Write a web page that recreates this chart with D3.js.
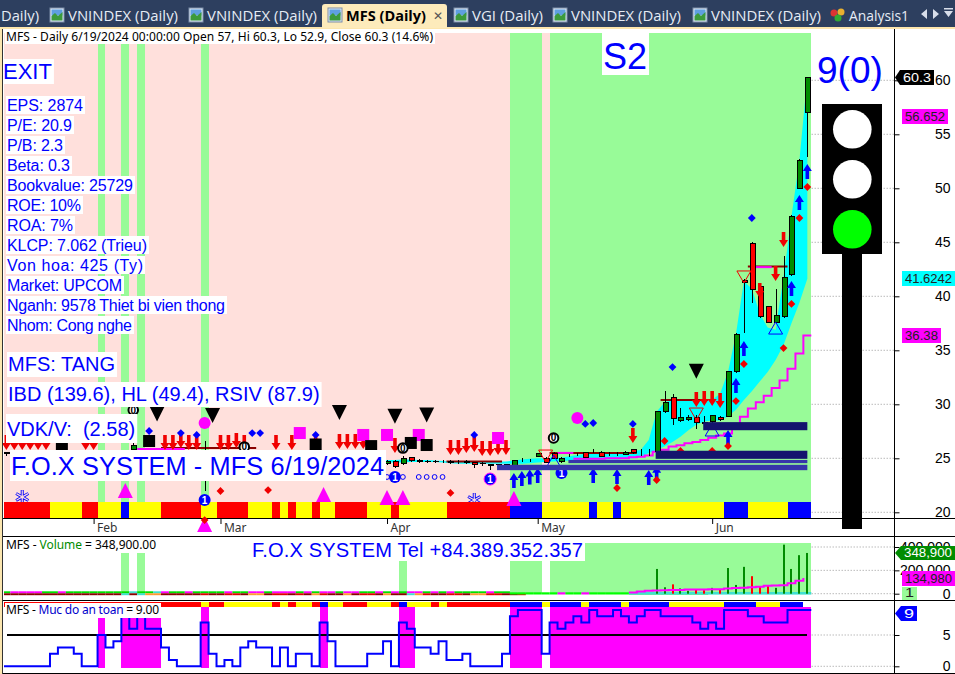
<!DOCTYPE html>
<html><head><meta charset="utf-8">
<style>html,body{margin:0;padding:0;background:#fff}svg{display:block}text{white-space:pre}</style>
<script src="https://cdnjs.cloudflare.com/ajax/libs/d3/7.8.5/d3.min.js"></script>
</head><body><svg id="c" width="955" height="674"></svg>
<script>
// ---------- DATA ----------
const barCount = 102;
const priceTicks = [20,25,30,35,40,45,50,55,60];
const volumeTicks = [0,200000,400000];
const safetyTicks = [0,5];
const months = ["Feb","Mar","Apr","May","Jun"];
const monthBars = [11,27,48,67,89];

const opens = [25.5,25.5,25.5,25.5,25.5,25.5,25.5,25.5,25.5,25.5,25.5,25.5,25.5,25.5,25.5,25.5,25.8,25.5,25.5,25.5,
 25.4,25.4,25.4,25.4,25.4,25.4,25.4,25.4,25.4,25.4,25.4,25.4,25.4,25.4,25.4,25.4,25.4,25.4,25.4,25.4,
 25.4,25.4,25.4,25.4,25.4,25.2,25,24.9,24.5,24.7,24.5,25.05,24.8,24.7,24.75,24.7,24.7,24.7,24.7,24.6,
 24.55,24.4,24.45,24.4,24.3,24.9,24.85,25.2,25,25.4,24.75,25.3,25.4,25.5,25.7,25.55,25.5,25.5,25.35,25.8,
 25.55,25.55,25.6,29.3,30.6,28.5,28.6,28.8,28.3,28.4,28.8,28.9,33,41.5,44.9,40.9,39.1,37.6,38.1,42,50,57];
const closes = [25.4,25.4,25.45,25.4,25.4,25.45,25.4,25.4,25.4,25.45,25.4,25.4,25.4,25.45,25.4,25.4,26.2,25.4,25.45,25.4,
 25.3,25.35,25.3,25.3,25.3,25.3,25.35,25.3,25.3,25.3,25.3,25.3,25.35,25.3,25.3,25.3,25.3,25.35,25.3,25.25,
 25.3,25.3,25.3,25.3,25.2,25,24.9,24.7,24.7,24.2,25,24.8,24.7,24.75,24.7,24.7,24.65,24.7,24.65,24.4,
 24.5,24.35,24.4,24.35,24.8,24.9,24.85,25.4,24.65,25,25,25.3,25.4,25.1,25.7,25.2,25.5,25.5,25.55,25.5,
 25.55,25.55,29.3,30.2,28.7,28.8,28.8,28.3,28.25,29,28.6,33,36.5,41.3,40.65,38.1,37.6,38.2,41.76,47.4,52.6,60.3];
const highs = [25.6,25.6,25.6,25.6,25.6,25.6,25.6,25.6,25.6,25.6,25.6,25.6,25.6,25.6,25.6,25.6,26.5,25.6,25.6,25.6,
 25.6,25.6,25.6,25.6,25.6,26.6,25.6,25.6,25.6,25.6,25.6,25.6,25.6,25.6,25.6,25.6,25.6,25.6,25.6,25.6,
 25.6,25.6,25.6,25.6,25.5,25.3,25.1,25,24.8,24.8,25.2,25.1,24.9,24.85,24.85,24.8,24.8,24.8,24.8,24.7,
 24.65,24.45,24.5,24.45,24.85,25,24.95,25.5,25.1,25.6,25.1,25.4,25.5,25.6,25.9,25.7,25.6,25.6,25.7,25.9,
 25.9,25.9,29.4,31.2,31,29.7,29,29,28.9,29,28.9,33.1,36.6,41.6,45,40.9,39.1,40.7,43.7,47.5,52.7,60.3];
const lows = [25.2,25.2,25.2,25.2,25.2,25.2,25.2,25.2,25.2,25.2,25.2,25.2,25.2,25.2,25.2,25.2,25.6,25.2,25.2,25.2,
 25.2,25.2,25.2,25.2,25.2,22,25.2,25.2,25.2,25.2,25.2,25.2,25.2,25.2,25.2,25.2,25.2,25.2,25.2,25.2,
 25.2,25.2,25.2,25.2,25,24.8,24.7,24.5,24.4,24.1,24.4,24.7,24.6,24.6,24.6,24.6,24.5,24.5,24.5,24.1,
 24.3,23.9,24.2,24.2,24.2,24.7,24.7,25.1,24.6,24.9,24.6,25.1,25.2,25,25.5,25.1,25.2,25.2,25.3,25.4,
 25.2,25.2,25.5,29.2,28.1,28.4,28.5,27.7,27.6,28.3,28.5,28.8,32.9,36.6,39.4,38,37.5,37.6,38,41.9,50,52.9];

const mainBandRuns = [["r",6],["y",4],["r",2],["y",3],["b",1],["y",4],["r",5],["y",2],["r",4],["y",3],["r",1],["y",1],["r",1],["y",2],["r",1],["y",2],["r",4],["y",3],["r",1],["y",6],["r",8],["b",4],["y",6],["b",1],["y",2],["b",1],["y",13],["b",3],["y",5],["b",3]];
const safetyBandRuns = [["r",25],["y",1],["r",2],["y",6],["r",1],["y",1],["r",1],["y",2],["r",1],["b",1],["y",2],["r",3],["y",3],["r",1],["b",1],["y",3],["r",1],["y",1],["r",8],["b",4],["y",1],["b",4],["y",1],["b",4],["y",1],["b",5],["y",7],["b",4],["y",3],["b",3]];

const mainGreenBars = [12,15,17,25,64,65,66,67,69,70,71,72,73,74,75,76,77,78,79,80,81,82,83,84,85,86,87,88,89,90,91,92,93,94,95,96,97,98,99,100,101];
const volumeGreenBars = [15,17,50,64,65,66,67,69,70,71,72,73,74,75,76,77,78,79,80,81,82,83,84,85,86,87,88,89,90,91,92,93,94,95,96,97,98,99,100,101];
const safetyPinkBars = [12,15,16,17,18,19,25,40,50,51,64,65,66,67,69,70,71,72,73,74,75,76,77,78,79,80,81,82,83,84,85,86,87,88,89,90,91,92,93,94,95,96,97,98,99,100,101];

const safety = [0,0,0,0,0,0,2,3,3,2,0,0,5,3,4,9,6,9,6,6,3,1,0,0,0,7,2,0,1,0,3,4,3,3,0,3,0,2,2,0,7,4,0,0,0,0,2,2,4,0,7,6,3,3,2,4,1,1,2,0,0,0,0,2,8,9,9,9,2,7,6,7,8,7,9,8,8,9,8,7,8,9,9,8,8,8,8,7,6,7,6,9,9,9,8,8,7,7,7,9,9,9];

const cloudFirstBar = 47;
const cloudTop = [24.7,24.85,24.85,24.9,24.9,24.85,24.85,24.8,24.75,24.7,24.7,24.7,24.7,24.7,24.7,24.7,24.7,24.8,24.9,24.95,25,25,25.05,25.05,25.2,25.3,25.4,25.4,25.4,25.4,25.45,25.5,25.6,25.8,26.7,29.3,30.2,30.4,30.4,30.4,30.4,30.4,30.4,31,33,36.5,41.4,40.7,38.4,37.1,36.9,41.8,47.4,52.6,60.3];
const cloudBottom = [24.6,24.6,24.6,24.6,24.65,24.65,24.65,24.65,24.6,24.55,24.5,24.5,24.5,24.5,24.5,24.5,24.5,24.5,24.5,24.55,24.6,24.65,24.7,24.75,24.8,24.85,24.85,24.9,24.9,24.9,24.9,24.95,25,25.1,25.5,25.8,26.1,26.5,27,27.6,28.1,28.4,28.5,28.5,28.9,29.5,30.4,31.2,32.1,33,34.1,35.5,37.5,39.4,41.62];

const stairFirstBar = 72;
const stairLine = [24.95,24.95,24.95,24.95,25,25,25,25.1,25.15,25.25,25.6,25.8,26.1,26.2,26.4,26.5,26.7,26.9,27.1,27.3,27.8,28.85,29.6,30.2,30.8,31.5,32.2,33.3,34.7,36.38];

const levelLineBars = [[20,31],[56,62],[69,79],[83,88],[94,98]];
const levelLinePrices = [25.95,24.7,25.5,30.4,42.75];
const pinkLineBars = [[17,22],[70,71],[95,96]];
const pinkLinePrices = [25.86,25.5,42.7];

const zoneBars = [[88,101],[82,101],[71,101],[62,101]];
const zoneHigh = [28.35,25.7,24.85,24.4];
const zoneLow = [27.6,24.95,24.55,23.9];
const zoneShades = ["#14146e","#14146e","#3636aa","#3636aa"];

const sellBars = [0,1,2,3,4,5,10,11,20,21,22,23,24,27,28,29,30,34,36,39,42,43,44,45,49,56,57,58,59,60,61,62,63,79,87,88,89,90,95,97,98];
const sellTips = [25.77,25.77,25.77,25.77,25.77,25.77,25.77,25.77,25.77,25.77,25.95,25.77,25.77,25.77,25.77,25.95,25.77,25.77,25.77,25.77,25.86,25.86,25.86,25.86,25.49,25.31,25.31,25.49,25.58,25.21,25.21,25.31,25.31,26.42,29.75,29.84,29.84,29.66,39.84,41.42,44.56];
const buyBars = [64,65,66,67,74,77,81,82,91,92,93,99,100,101];
const buyTips = [23.64,23.82,23.96,24.1,24.1,24,23.91,24.3,27.62,32.43,35.86,41.42,49.38,52.25];
const blackDownBars = [19,26,42,49,53,87];
const blackDownPrices = [29.1,28.97,29.25,28.9,29,33.05];
const pinkSquareBars = [37,45,48,52,62];
const pinkSquarePrices = [27.34,27.16,27.16,27.16,26.88];
const blackSquareBars = [7,18,39,46,51,53];
const blackSquarePrices = [25.95,26.6,26.28,26.13,26.42,26.23];
const pinkCircleBars = [25,72];
const pinkCirclePrices = [28.27,28.73];
const blueDiamondBars = [18,22,24,31,32,39,59,73,74,79,84,94];
const blueDiamondPrices = [27.53,27.34,27.16,27.34,27.34,27.16,27.16,28.18,28.27,28.18,33.45,47.25];
const redDiamondBars = [27,33,56,77,82,83,85,89,91,92,93,98,99,100,101];
const redDiamondPrices = [21.97,22.06,21.79,22.25,22.99,26.6,25.68,25.68,26.13,30.3,33.73,35.21,39.29,47.25,50.12];
const topDiamondBars = [25];
const topDiamondPrices = [19.28];
const pinkUpBars = [15,25,40,48,50,64];
const pinkUpPrices = [21.97,18.82,21.6,21.32,21.32,21.23];
const oneBars = [25,49,61];
const onePrices = [21.14,23.27,23.08];
const clippedOneBars = [70];
const clippedOnePrices = [23.64];
const zeroBars = [16,30,50,69];
const zeroPrices = [29.47,26.05,25.95,26.88];
const ringBars = [48,50,52,53,54,55];
const ringPrices = [23.27,23.27,23.27,23.27,23.27,23.27];
const flakeBars = [2,59];
const flakePrices = [21.42,21.14];
const redOutlineBars = [93,87,68];
const redOutlinePrices = [41.79,29.1,25.21];
const blueOutlineBars = [97,89,69];
const blueOutlinePrices = [37.06,27.62,24.75];

const volumeBars = [82,83,84,85,86,87,88,89,90,91,92,93,94,95,96,97,98,99,100,101];
const volumeValues = [212000,55000,80000,45000,25000,40000,30000,50000,40000,220000,75000,230000,150000,65000,65000,50000,420000,212000,330000,348900];
const volumeRed = [84,87,88,90,94,95,96];
const volumeAvgBars = [79,80,81,82,83,84,85,86,87,88,89,90,91,92,93,94,95,96,97,98,99,100,101];
const volumeAvg = [10000,18000,25000,28000,30000,32000,32000,35000,35000,35000,38000,38000,45000,48000,52000,55000,60000,68000,70000,72000,90000,110000,134980];
const thinTopCodes = "lmmmmllmlllllllltlltmllmllllmllmmlmmmlmlmmlmmllmlmlmmlmlmllllmll".split("");
const thinLowCodes = "dddddddddddddddtdtoodddddrddrrdoodrrdrdorddodrrdoddtorddrrdoorrddr".split("");
const thinLimeCodes = "llllllmllmlllllllllllllll".split("");

const sideNotes = ["EPS: 2874","P/E: 20.9","P/B: 2.3","Beta: 0.3","Bookvalue: 25729","ROE: 10%","ROA: 7%","KLCP: 7.062 (Trieu)","Von hoa: 425 (Ty)","Market: UPCOM","Nganh: 9578 Thiet bi vien thong","Nhom: Cong nghe"];
const tabNames = ["VNINDEX (Daily)","VNINDEX (Daily)","VGI (Daily)","VNINDEX (Daily)","VNINDEX (Daily)"];

// ---------- LAYOUT ----------
const sideNoteWidths = [76,65,56,63,126,74,66,140,136,115,218,125];
const tabTextX = [68,207,472,571,711];
const tabTextW = [110,110,71,110,110];

// ---------- SCALES ----------
const svg = d3.select("#c");
const edge = d3.scaleLinear().domain([0,barCount]).range([2.4,811.3]);
const bw = edge(1)-edge(0);
const cx = i => edge(i)+bw/2;
const px = i => Math.round(edge(i));
const pw = i => px(i+1)-px(i);
const yP = d3.scaleLinear().domain([20,60]).range([512.3,80.3]);
const yV = d3.scaleLinear().domain([0,400000]).range([593.7,547]);
const yS = d3.scaleLinear().domain([0,5]).range([666.3,635]);
const COL = {r:"#ff0000",y:"#ffff00",b:"#0000ff"};
const GREEN="#98fb98", PINK="#ffe0dc", MAG="#ff00ff", BLUE="#0000ff", LEFT=4;
const clipL = i => Math.max(LEFT, edge(i));

svg.append("rect").attr("width",955).attr("height",674).attr("fill","#fff");

// ---------- MAIN PANE BACKGROUND ----------
const main = svg.append("g");
main.append("rect").attr("x",LEFT).attr("y",33).attr("width",px(barCount)-LEFT).attr("height",485).attr("fill",PINK);
main.append("g").attr("shape-rendering","crispEdges").selectAll("rect").data(mainGreenBars).join("rect").attr("x",px).attr("y",33)
  .attr("width",pw).attr("height",485).attr("fill",GREEN);
svg.append("g").selectAll("line").data(priceTicks).join("line")
  .attr("x1",811.5).attr("x2",894).attr("y1",d=>yP(d)).attr("y2",d=>yP(d))
  .attr("stroke","#bbb").attr("stroke-dasharray","1.5 1.5");

// cloud
const cloudRows = d3.range(cloudTop.length).map(k=>({i:k+cloudFirstBar,t:cloudTop[k],b:cloudBottom[k]}));
main.append("path").datum(cloudRows)
  .attr("d",d3.area().x(d=>cx(d.i)).y0(d=>yP(d.b)).y1(d=>yP(d.t)))
  .attr("fill","#00ffff");

// level lines
levelLineBars.forEach((b,k)=>main.append("line").attr("x1",edge(b[0])).attr("x2",edge(b[1]+1))
  .attr("y1",yP(levelLinePrices[k])).attr("y2",yP(levelLinePrices[k])).attr("stroke","#8b0000").attr("stroke-width",2));
pinkLineBars.forEach((b,k)=>main.append("line").attr("x1",edge(b[0])).attr("x2",edge(b[1]+1))
  .attr("y1",yP(pinkLinePrices[k])).attr("y2",yP(pinkLinePrices[k])).attr("stroke",MAG).attr("stroke-width",2));

// stair line (each value holds over its bar)
const stairPts = stairLine.map((v,k)=>[edge(k+stairFirstBar),yP(v)]);
stairPts.push([edge(barCount),yP(stairLine[stairLine.length-1])]);
main.append("path").attr("d",d3.line().curve(d3.curveStepAfter)(stairPts)).attr("fill","none").attr("stroke",MAG).attr("stroke-width",2);

// candles
const rows = d3.range(barCount).map(i=>({i,o:opens[i],c:closes[i],h:highs[i],l:lows[i]}));
const cg = main.append("g").attr("shape-rendering","crispEdges");
cg.selectAll(".w").data(rows).join("line").attr("x1",d=>Math.round(cx(d.i))+.5).attr("x2",d=>Math.round(cx(d.i))+.5)
  .attr("y1",d=>yP(d.h)).attr("y2",d=>yP(d.l)).attr("stroke","#000");
cg.selectAll(".b").data(rows).join("rect").attr("x",d=>Math.round(cx(d.i))-2)
  .attr("width",5).attr("y",d=>yP(Math.max(d.o,d.c)))
  .attr("height",d=>Math.abs(yP(d.o)-yP(d.c))).attr("fill",d=>d.c>=d.o?"#008c00":"#ff0000").attr("stroke","#000");

// markers
const at = (bars,vals)=>bars.map((b,k)=>({x:cx(b),y:yP(vals[k])}));
const tr = d=>`translate(${d.x},${d.y})`;
const m = main.append("g");
const sellPath="M0,0L-4.5,-7L-1.8,-7L-1.8,-15L1.8,-15L1.8,-7L4.5,-7Z";
const buyPath="M0,0L-4.5,7L-1.8,7L-1.8,15L1.8,15L1.8,7L4.5,7Z";
m.selectAll(".s").data(at(sellBars,sellTips)).join("path").attr("d",sellPath).attr("transform",tr).attr("fill","#f00000");
m.selectAll(".u").data(at(buyBars,buyTips)).join("path").attr("d",buyPath).attr("transform",tr).attr("fill",BLUE);
m.selectAll(".p").data(at(pinkSquareBars,pinkSquarePrices)).join("rect").attr("x",d=>d.x-6).attr("y",d=>d.y-6).attr("width",12).attr("height",12).attr("fill",MAG);
m.selectAll(".k").data(at(blackSquareBars,blackSquarePrices)).join("rect").attr("x",d=>d.x-6).attr("y",d=>d.y-6).attr("width",12).attr("height",12).attr("fill","#000");
m.selectAll(".t").data(at(blackDownBars,blackDownPrices)).join("path").attr("d","M-7.5,-7.5L7.5,-7.5L0,7.5Z").attr("transform",tr).attr("fill","#000");
m.selectAll(".c").data(at(pinkCircleBars,pinkCirclePrices)).join("circle").attr("cx",d=>d.x).attr("cy",d=>d.y).attr("r",6).attr("fill",MAG);
const diamond="M0,-3.9L3.9,0L0,3.9L-3.9,0Z";
m.selectAll(".bd").data(at(blueDiamondBars,blueDiamondPrices)).join("path").attr("d",diamond).attr("transform",tr).attr("fill",BLUE);
m.selectAll(".rd").data(at(redDiamondBars,redDiamondPrices)).join("path").attr("d",diamond).attr("transform",tr).attr("fill","#f00000");
m.selectAll(".ring").data(at(ringBars,ringPrices)).join("circle").attr("cx",d=>d.x).attr("cy",d=>d.y).attr("r",2.4).attr("fill","none").attr("stroke",BLUE);
m.selectAll(".ro").data(at(redOutlineBars,redOutlinePrices)).join("path").attr("d","M-7,-6L7,-6L0,6Z").attr("transform",tr).attr("fill","none").attr("stroke","#f00000");
m.selectAll(".bo").data(at(blueOutlineBars,blueOutlinePrices)).join("path").attr("d","M-7,6L7,6L0,-6Z").attr("transform",tr).attr("fill","none").attr("stroke",BLUE);
m.selectAll(".fl").data(at(flakeBars,flakePrices)).join("path").attr("d",d3.symbol(d3.symbolAsterisk,140)).attr("transform",tr).attr("fill","none").attr("stroke",BLUE).attr("stroke-width",3);
m.selectAll(".fl2").data(at(flakeBars,flakePrices)).join("path").attr("d",d3.symbol(d3.symbolAsterisk,125)).attr("transform",tr).attr("fill","none").attr("stroke",PINK).attr("stroke-width",1.2);
const clippedOne=m.append("g").selectAll("g").data(at(clippedOneBars,clippedOnePrices)).join("g").attr("transform",tr);
clippedOne.append("circle").attr("r",6).attr("fill",BLUE);
clippedOne.append("text").text("1").attr("text-anchor","middle").attr("y",4).attr("font-family","Liberation Sans").attr("font-weight","bold").attr("font-size",10).attr("fill","#fff");
const z=m.append("g").selectAll("g").data(at(zeroBars,zeroPrices)).join("g").attr("transform",tr);
z.append("circle").attr("r",4.8).attr("fill","#fff").attr("stroke","#000").attr("stroke-width",2);
z.append("text").text("0").attr("text-anchor","middle").attr("y",3.5).attr("font-family","Liberation Sans").attr("font-weight","bold").attr("font-size",10);

// zones
zoneBars.forEach((b,k)=>main.append("rect").attr("x",cx(b[0])-1).attr("width",cx(b[1])-cx(b[0])+1)
  .attr("y",yP(zoneHigh[k])).attr("height",yP(zoneLow[k])-yP(zoneHigh[k])).attr("fill",zoneShades[k]));

// state band
function runs(list){let s=0;return list.map(([c,n])=>{const o={c,s,e:s+n};s+=n;return o;});}
main.append("g").attr("shape-rendering","crispEdges").selectAll("rect").data(runs(mainBandRuns)).join("rect")
  .attr("x",d=>clipL(d.s)).attr("width",d=>edge(d.e)-clipL(d.s)).attr("y",502).attr("height",16).attr("fill",d=>COL[d.c]);
const over=svg.append("g");

// ---------- TEXT LABELS ON MAIN ----------
function label(parent,t,x,base,size,opts={}){
  const g=parent.append("g");
  const bg=g.append("rect").attr("fill","#fff");
  const el=g.append("text").attr("x",x).attr("y",base).attr("font-family",opts.font||"Liberation Sans").attr("font-size",size).attr("fill",opts.fill||BLUE);
  (Array.isArray(t)?t:[[t,opts.fill||BLUE]]).forEach(p=>el.append("tspan").text(p[0]).attr("fill",p[1]));
  if(opts.len) el.attr("textLength",opts.len).attr("lengthAdjust","spacing");
  const w=opts.len||el.node().getComputedTextLength();
  const pl=opts.padL===undefined?1:opts.padL, pr=opts.padR===undefined?2:opts.padR;
  bg.attr("x",x-pl).attr("width",w+pl+pr).attr("y",opts.top).attr("height",opts.h);
  return g;
}
const lab=svg.append("g");
label(lab,"MFS - Daily 6/19/2024 00:00:00 Open 57, Hi 60.3, Lo 52.9, Close 60.3 (14.6%)",6,41,12,{fill:"#000",font:"Noto Sans",top:33,h:11,len:427});
label(lab,"EXIT",3,79,22,{top:59,h:25});
sideNotes.forEach((t,k)=>label(lab,t,7,111+20*k,16,{top:96+20*k,h:18,len:sideNoteWidths[k]}));
label(lab,"MFS: TANG",8,371,20,{top:352,h:25});
label(lab,"IBD (139.6), HL (49.4), RSIV (87.9)",8,401,20,{top:382,h:25});
label(lab,"VDK/V:  (2.58)",7,436,20,{top:414,h:29});
label(lab,"F.O.X SYSTEM - MFS 6/19/2024",11,475,25.3,{top:450,h:31,len:373});
label(lab,"S2",603,69,36,{top:33,h:42});

// ---------- TRAFFIC LIGHT ----------
const tl=svg.append("g");
tl.append("text").text("9(0)").attr("x",817).attr("y",83).attr("font-family","Liberation Sans").attr("font-size",37).attr("fill",BLUE);
tl.append("rect").attr("x",842).attr("y",254).attr("width",20).attr("height",275).attr("fill","#000");
tl.append("rect").attr("x",822).attr("y",104).attr("width",60).attr("height",150).attr("fill","#000");
[["#fff",129.3],["#fff",179.3],["#00ff00",229.3]].forEach(([c,y])=>tl.append("circle").attr("cx",852.3).attr("cy",y).attr("r",19.3).attr("fill",c));

// ---------- VOLUME PANE ----------
const vol=svg.append("g");
vol.append("g").attr("shape-rendering","crispEdges").selectAll("rect").data(volumeGreenBars).join("rect").attr("x",px).attr("y",543).attr("width",pw).attr("height",51).attr("fill",GREEN);
vol.selectAll(".t").data(thinTopCodes).join("rect").attr("x",(d,i)=>clipL(i)).attr("width",(d,i)=>edge(i+1)-clipL(i)).attr("y",591.3).attr("height",2)
  .attr("fill",d=>({l:"#00e000",m:MAG,t:"#40e0d0"}[d]));
vol.selectAll(".l").data(thinLowCodes).join("rect").attr("x",(d,i)=>clipL(i)).attr("width",(d,i)=>edge(i+1)-clipL(i)).attr("y",593.3).attr("height",1.9)
  .attr("fill",d=>({d:"#8b0000",o:"#ff9a30",r:"#e00000",t:"#40e0d0"}[d]));
vol.selectAll(".x").data(thinLimeCodes).join("rect").attr("x",(d,i)=>edge(i+64)).attr("width",bw).attr("y",592.3).attr("height",2.2)
  .attr("fill",d=>d==="l"?"#00ff00":MAG);
vol.append("rect").attr("x",edge(79)).attr("width",edge(102)-edge(79)).attr("y",592).attr("height",2.6).attr("fill","#40e0d0");
vol.selectAll(".v").data(volumeBars).join("rect").attr("x",d=>Math.round(cx(d))-1).attr("width",2)
  .attr("y",(d,k)=>yV(volumeValues[k])).attr("height",(d,k)=>yV(0)-yV(volumeValues[k]))
  .attr("fill",d=>volumeRed.includes(d)?"#ff0000":"#008c00");
const vAvg=volumeAvg.map((v,k)=>[edge(volumeAvgBars[k]),yV(v)]);
vol.append("path").attr("d",d3.line().curve(d3.curveStepAfter)(vAvg)).attr("fill","none").attr("stroke",MAG).attr("stroke-width",2);
svg.append("g").selectAll("line").data(volumeTicks).join("line").attr("x1",811.5).attr("x2",894).attr("y1",d=>yV(d)).attr("y2",d=>yV(d)).attr("stroke","#bbb").attr("stroke-dasharray","1.5 1.5");
label(svg,[["MFS - ","#000"],["Volume","#008c00"],[" = 348,900.00","#000"]],6,549,12,{font:"Noto Sans",top:538,h:15,len:150});
label(svg,"F.O.X SYSTEM Tel +84.389.352.357",252,557,20.1,{top:541,h:20,len:331});

// ---------- SAFETY PANE ----------
const saf=svg.append("g");
saf.append("g").attr("shape-rendering","crispEdges").selectAll("rect").data(safetyPinkBars).join("rect").attr("x",px).attr("y",607).attr("width",pw).attr("height",61).attr("fill",MAG);
saf.append("g").attr("shape-rendering","crispEdges").selectAll("rect").data(runs(safetyBandRuns)).join("rect")
  .attr("x",d=>clipL(d.s)).attr("width",d=>edge(d.e)-clipL(d.s)).attr("y",602).attr("height",5).attr("fill",d=>COL[d.c]);
saf.append("line").attr("x1",7).attr("x2",807).attr("y1",yS(5)).attr("y2",yS(5)).attr("stroke","#000").attr("stroke-width",2);
const safPts=safety.map((v,i)=>[clipL(i),yS(v)]); safPts.push([edge(barCount),yS(safety[safety.length-1])]);
saf.append("path").attr("d",d3.line().curve(d3.curveStepAfter)(safPts)).attr("fill","none").attr("stroke",BLUE).attr("stroke-width",2);
svg.append("g").selectAll("line").data(safetyTicks).join("line").attr("x1",811.5).attr("x2",894).attr("y1",d=>yS(d)).attr("y2",d=>yS(d)).attr("stroke","#bbb").attr("stroke-dasharray","1.5 1.5");
label(svg,[["MFS - ","#000"],["Muc do an toan","#0000cc"],[" = 9.00","#000"]],6,614,12,{font:"Noto Sans",top:603,h:15,len:153,padL:1,padR:2});

// ---------- FRAME AND AXES ----------
const frame=svg.append("g").attr("shape-rendering","crispEdges");
[[518.5],[536],[600],[673]].forEach(([y])=>frame.append("line").attr("x1",2).attr("x2",955).attr("y1",y).attr("y2",y).attr("stroke","#000"));
frame.append("line").attr("x1",894.5).attr("x2",894.5).attr("y1",28).attr("y2",674).attr("stroke","#000");
frame.append("rect").attr("x",0).attr("y",28).attr("width",2).attr("height",646).attr("fill","#fbe6b0");
frame.append("rect").attr("x",2).attr("y",28).attr("width",1).attr("height",646).attr("fill","#333");

function rightAxis(scale,vals,fmt){
  const g=svg.append("g").attr("transform","translate(894.5,0)")
    .call(d3.axisRight(scale).tickValues(vals).tickSize(5).tickFormat(fmt));
  g.select(".domain").remove();
  g.selectAll("text").attr("text-anchor","end").attr("x",56).attr("font-family","Liberation Sans").attr("font-size",14).attr("fill","#000");
  g.selectAll("line").attr("stroke","#000");
}
rightAxis(yP,priceTicks,d3.format("d"));
rightAxis(yV,volumeTicks,d3.format(",d"));
rightAxis(yS,safetyTicks,d3.format("d"));

const dateScale=d3.scaleLinear().domain([0,barCount-1]).range([cx(0),cx(barCount-1)]);
const dateAxis=svg.append("g").attr("transform","translate(0,519)")
  .call(d3.axisBottom(dateScale).tickValues(monthBars).tickSize(5).tickFormat((d,i)=>months[i]));
dateAxis.select(".domain").remove();
dateAxis.selectAll("text").attr("text-anchor","start").attr("x",3).attr("y",4).attr("font-family","Noto Sans").attr("font-size",12).attr("fill","#333");
dateAxis.selectAll("line").attr("stroke","#000");

// marks that overlap the band and the date row
const o2=over.raise();
o2.selectAll(".pu").data(at(pinkUpBars,pinkUpPrices)).join("path").attr("d","M0,-8L7.5,7L-7.5,7Z").attr("transform",tr).attr("fill",MAG);
const one=o2.append("g").selectAll("g").data(at(oneBars,onePrices)).join("g").attr("transform",tr);
one.append("circle").attr("r",6).attr("fill",BLUE).attr("stroke",(d,i)=>oneBars[i]===61?MAG:"none");
one.append("text").text("1").attr("text-anchor","middle").attr("y",4).attr("font-family","Liberation Sans").attr("font-weight","bold").attr("font-size",10).attr("fill","#fff");
o2.selectAll(".td").data(at(topDiamondBars,topDiamondPrices)).join("path").attr("d",diamond).attr("transform",tr).attr("fill","#f00000");

// ---------- VALUE TAGS ----------
function tag(t,x,y,w,h,fill,color,arrow){
  const g=svg.append("g");
  if(arrow) g.append("path").attr("d",`M895,${y+h/2}L${x},${y}L${x},${y+h}Z`).attr("fill",fill);
  g.append("rect").attr("x",x).attr("y",y).attr("width",w).attr("height",h).attr("fill",fill);
  g.append("text").text(t).attr("x",x+3).attr("y",y+h-3).attr("font-family","Liberation Sans").attr("font-size",13.5).attr("fill",color)
    .attr("textLength",Math.max(6,w-6)).attr("lengthAdjust","spacingAndGlyphs");
}
tag("60.3",900,70,34,15,"#000","#fff",true);
tag("56.652",902,109,46,15,MAG,"#222");
tag("41.6242",902,271,53,15,"#00ffff","#222");
tag("36.38",902,328,39,15,MAG,"#222");
tag("348,900",901,546,54,14,"#008c00","#fff",true);
tag("134,980",902,571,53,15,MAG,"#222");
tag("1",902,587,15,13,GREEN,"#222");
tag("9",901,606,16,15,BLUE,"#fff",true);

// ---------- TAB BAR ----------
const tabs=svg.append("g");
tabs.append("rect").attr("width",955).attr("height",27).attr("fill","#2d3f5f");
tabs.append("rect").attr("y",27).attr("width",955).attr("height",2).attr("fill","#fde6ad");
tabs.append("path").attr("d","M322,28V7Q322,4 325,4H444Q447,4 447,7V28Z").attr("fill","#fdebbb");
function tabText(t,x,w,fill,weight){
  tabs.append("text").text(t).attr("x",x).attr("y",21).attr("font-family","Open Sans").attr("font-size",14.5).attr("font-weight",weight||400)
    .attr("fill",fill).attr("textLength",w).attr("lengthAdjust","spacingAndGlyphs");
}
function icon(x){
  tabs.append("rect").attr("x",x).attr("y",8).attr("width",14).attr("height",14).attr("fill","#dde8f6").attr("stroke","#7c8ea8");
  tabs.append("rect").attr("x",x+1.5).attr("y",9.5).attr("width",11).attr("height",6).attr("fill","#5f9fe0");
  tabs.append("path").attr("d",`M${x+1.5},20.5V16L${x+5},13L${x+8},16L${x+12.5},12V20.5Z`).attr("fill","#3c9a3c");
}
tabText("Daily)",1,38,"#e6ecf5");
tabNames.forEach((t,k)=>{tabText(t,tabTextX[k],tabTextW[k],"#e6ecf5");icon(tabTextX[k]-18);});
icon(328);
tabText("MFS (Daily)",346,80,"#000",700);
tabs.append("text").text("✕").attr("x",433).attr("y",20).attr("font-size",12).attr("font-family","DejaVu Sans").attr("fill","#555");
tabs.append("circle").attr("cx",834).attr("cy",13).attr("r",3.5).attr("fill","#d33");
tabs.append("circle").attr("cx",841).attr("cy",12).attr("r",3.5).attr("fill","#e8b030");
tabs.append("circle").attr("cx",838).attr("cy",18).attr("r",3.5).attr("fill","#3a3");
tabText("Analysis1",849,60,"#e6ecf5");
tabs.append("path").attr("d","M927,9V19L921,14Z M933,9V19L939,14Z M944,11H953L948.5,17Z M944,8H953V9.5H944Z").attr("fill","#d8deea");
</script></body></html>
